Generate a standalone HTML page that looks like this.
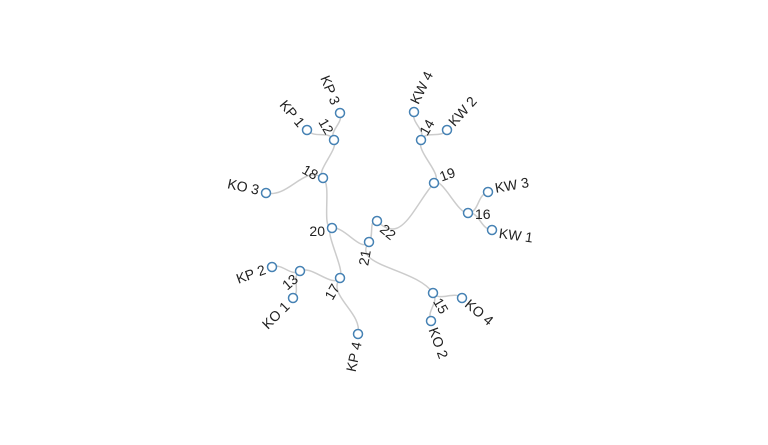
<!DOCTYPE html>
<html><head><meta charset="utf-8"><style>
html,body{margin:0;padding:0;background:#fff;}
svg{display:block;font-family:"Liberation Sans",sans-serif;font-size:14px;}
</style></head><body>
<svg id="s" width="768" height="445" viewBox="0 0 768 445">
<g id="links" fill="none" stroke="#ccc" stroke-width="1.5"></g>
<g id="nodes"></g>
<g id="labels" fill="#222"></g>
</svg>
<script>
var N={
KP3:[340,113],KP1:[307,130],n12:[334,140],KW4:[414,112],KW2:[447,130],n14:[421,140],
n18:[323,178],KO3:[266,193],n19:[434,183],KW3:[488,192],n16:[468,213],KW1:[492,230],
n20:[332,228],n22:[377,221],n21:[369,242],KP2:[272,267],n13:[300,271],n17:[340,278],
KO1:[293,298],KP4:[358,334],n15:[433,293],KO4:[462,298],KO2:[431,321]};
var E=[["n21","n22"],["n21","n20"],["n21","n15"],["n19","n14"],["n19","n16"],
["n14","KW4"],["n14","KW2"],["n16","KW3"],["n16","KW1"],["n20","n18"],["n20","n17"],
["n18","n12"],["n18","KO3"],["n12","KP1"],["n12","KP3"],["n17","n13"],["n17","KP4"],
["n13","KP2"],["n13","KO1"],["n15","KO4"],["n15","KO2"]];
var C=[384,222];
function pol(p){var dx=p[0]-C[0],dy=p[1]-C[1];return [Math.hypot(dx,dy),Math.atan2(dy,dx)];}
var L=document.getElementById('links'),ns="http://www.w3.org/2000/svg";
function addPath(d){var p=document.createElementNS(ns,'path');p.setAttribute('d',d);L.appendChild(p);}
E.forEach(function(e){var s=N[e[0]],t=N[e[1]],ps=pol(s),pt=pol(t),rm=(ps[0]+pt[0])/2;
var c1=[C[0]+rm*Math.cos(ps[1]),C[1]+rm*Math.sin(ps[1])],c2=[C[0]+rm*Math.cos(pt[1]),C[1]+rm*Math.sin(pt[1])];
addPath('M'+s+'C'+c1+' '+c2+' '+t);});
addPath('M377,221 C392,236 402,228 412,214 S426,192 434,183');
var G=document.getElementById('nodes');
for(var k in N){var c=document.createElementNS(ns,'circle');c.setAttribute('cx',N[k][0]);c.setAttribute('cy',N[k][1]);c.setAttribute('r',4.5);c.setAttribute('fill','#fff');c.setAttribute('stroke','#4682b4');c.setAttribute('stroke-width','1.5');G.appendChild(c);}
var T=[["KP 3",336,104,68,"end"],["KP 1",302,125,50,"end"],["KW 4",414,103,-64,"start"],["KW 2",451,124,-48,"start"],
["KO 3",259,190,12,"end"],["KW 3",495,188,-10,"start"],["KW 1",499,233,8,"start"],["KP 2",265,269,-20,"end"],
["KO 1",287,304,-45,"end"],["KP 4",357,342,-78,"end"],["KO 2",433,328,70,"start"],["KO 4",467,302,40,"start"],
["12",330,133,60,"end"],["14",423,134,-60,"start"],["18",317,176,30,"end"],["19",440,177,-20,"start"],
["16",475,214,0,"start"],["20",325,231,0,"end"],["22",382,227,40,"start"],["21",366,250,-80,"end"],
["13",296,277,-40,"end"],["17",336,285,-60,"end"],["15",437,299,60,"start"]];
var Lb=document.getElementById('labels');
T.forEach(function(a){var t=document.createElementNS(ns,'text');t.textContent=a[0];
t.setAttribute('transform','translate('+a[1]+','+a[2]+') rotate('+a[3]+')');t.setAttribute('text-anchor',a[4]);t.setAttribute('dy','0.35em');Lb.appendChild(t);});
</script>
</body></html>
